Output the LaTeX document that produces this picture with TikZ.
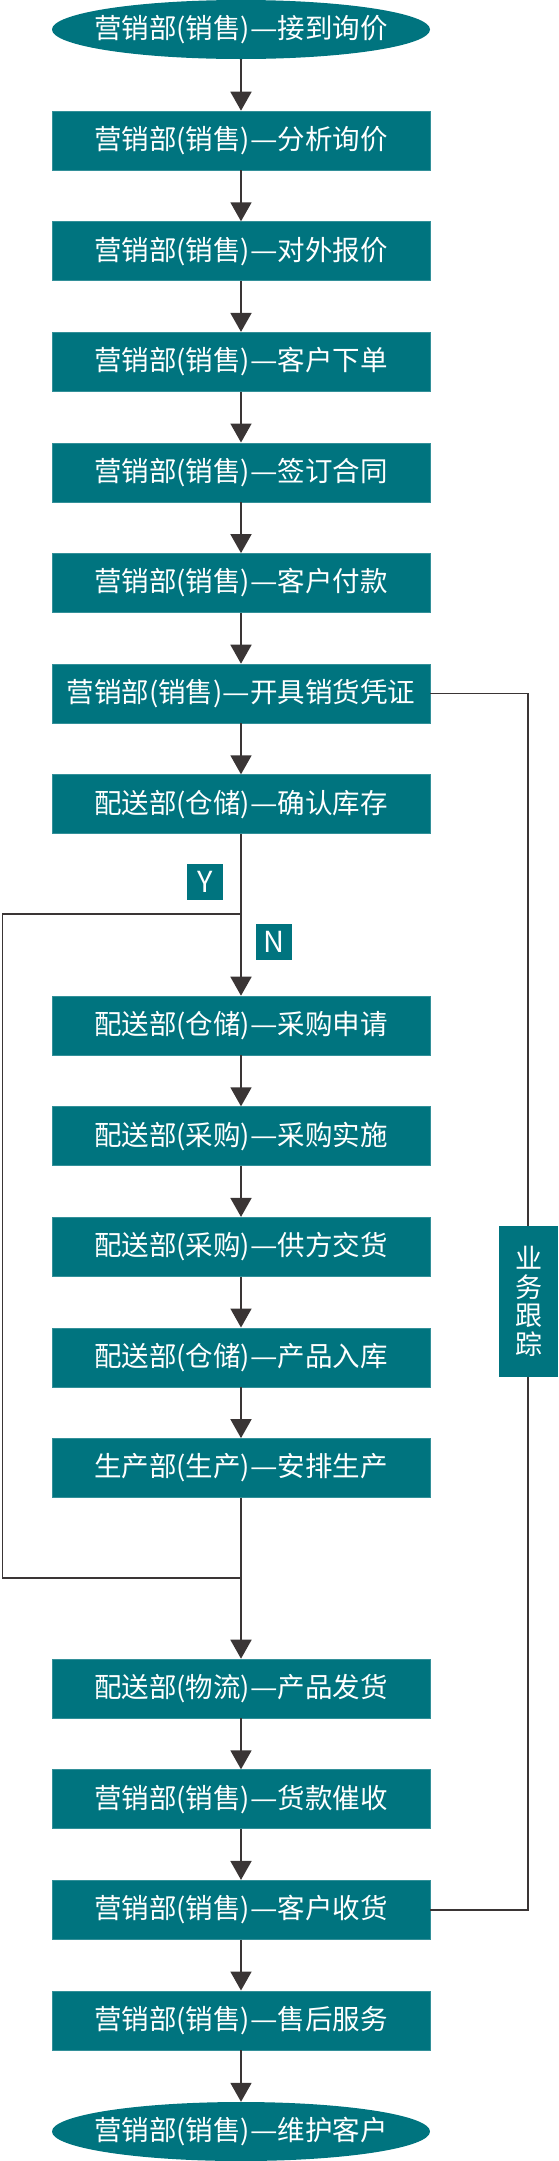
\documentclass[tikz,border=0pt]{standalone}
\usepackage{fontspec}
\usepackage{graphicx}
\newfontfamily\cjk{Noto Sans CJK SC}
\usetikzlibrary{arrows.meta,shapes.geometric}
\definecolor{teal1}{HTML}{00747F}
\definecolor{lnc}{HTML}{3A3535}
\newcommand{\dsh}{\scalebox{1.12}[1]{—}}
\newcommand{\zw}[1]{\makebox[0pt]{#1}}
\tikzset{
  stepbox/.style={rectangle, fill=teal1, draw=teal1!80!white, line width=0.6pt, minimum width=378pt, minimum height=59pt, inner sep=0pt, text=white, font=\cjk\fontsize{27.5}{30}\selectfont},
  endbox/.style={ellipse, fill=teal1, minimum width=378pt, minimum height=59pt, inner sep=0pt, text=white, font=\cjk\fontsize{27.5}{30}\selectfont},
  tagbox/.style={rectangle, fill=teal1, minimum width=36pt, minimum height=36pt, inner sep=0pt, text=white, font=\cjk\fontsize{29}{30}\selectfont},
  sidebox/.style={rectangle, fill=teal1, minimum width=59pt, minimum height=151pt, inner sep=0pt, text=white, align=center, font=\cjk\fontsize{27}{28.5}\selectfont},
  conn/.style={draw=lnc, line width=1.8pt},
  arr/.style={conn, -{Triangle[width=21pt,length=19pt]}, shorten >=0pt},
}
\begin{document}
\begin{tikzpicture}[x=1pt,y=1pt]
\useasboundingbox (0,0) rectangle (558,-2161);
\node[endbox] (n1) at (241,-29.5) {\zw{营销部(销售)\dsh 接到询价}};
\node[stepbox] (n2) at (241,-140.5) {营销部(销售)\dsh 分析询价};
\node[stepbox] (n3) at (241,-251.1) {营销部(销售)\dsh 对外报价};
\node[stepbox] (n4) at (241,-361.7) {营销部(销售)\dsh 客户下单};
\node[stepbox] (n5) at (241,-472.3) {营销部(销售)\dsh 签订合同};
\node[stepbox] (n6) at (241,-582.9) {营销部(销售)\dsh 客户付款};
\node[stepbox] (n7) at (241,-693.5) {营销部(销售)\dsh 开具销货凭证};
\node[stepbox] (n8) at (241,-804.1) {配送部(仓储)\dsh 确认库存};
\node[stepbox] (n9) at (241,-1025.5) {配送部(仓储)\dsh 采购申请};
\node[stepbox] (n10) at (241,-1136.1) {配送部(采购)\dsh 采购实施};
\node[stepbox] (n11) at (241,-1246.7) {配送部(采购)\dsh 供方交货};
\node[stepbox] (n12) at (241,-1357.3) {配送部(仓储)\dsh 产品入库};
\node[stepbox] (n13) at (241,-1467.9) {生产部(生产)\dsh 安排生产};
\node[stepbox] (n14) at (241,-1688.5) {配送部(物流)\dsh 产品发货};
\node[stepbox] (n15) at (241,-1799.1) {营销部(销售)\dsh 货款催收};
\node[stepbox] (n16) at (241,-1909.7) {营销部(销售)\dsh 客户收货};
\node[stepbox] (n17) at (241,-2020.3) {营销部(销售)\dsh 售后服务};
\node[endbox] (n18) at (241,-2131.5) {\zw{营销部(销售)\dsh 维护客户}};

\coordinate (br) at (241,-914);
\coordinate (bl) at (2.5,-914);
\coordinate (jl) at (2.5,-1578);
\coordinate (jn) at (241,-1578);
\coordinate (rt) at (528,-693.5);
\coordinate (rb) at (528,-1909.7);

\draw[arr] (n1) -- (n2);
\draw[arr] (n2) -- (n3);
\draw[arr] (n3) -- (n4);
\draw[arr] (n4) -- (n5);
\draw[arr] (n5) -- (n6);
\draw[arr] (n6) -- (n7);
\draw[arr] (n7) -- (n8);
\draw[conn] (n8.south) -- (br);
\draw[arr] (br) -- (n9);
\draw[arr] (n9) -- (n10);
\draw[arr] (n10) -- (n11);
\draw[arr] (n11) -- (n12);
\draw[arr] (n12) -- (n13);
\draw[conn] (br) -- (bl) -- (jl) -- (jn);
\draw[conn] (n13.south) -- (jn);
\draw[arr] (jn) -- (n14);
\draw[arr] (n14) -- (n15);
\draw[arr] (n15) -- (n16);
\draw[arr] (n16) -- (n17);
\draw[arr] (n17) -- (n18);
\draw[conn] (n7.east) -- (rt) -- (rb) -- (n16.east);

\node[tagbox] (ty) at (205,-882) {Y};
\node[tagbox] (tn) at (274,-942) {N};
\node[sidebox] (side) at (528.5,-1301.5) {业\\务\\跟\\踪};
\end{tikzpicture}
\end{document}
